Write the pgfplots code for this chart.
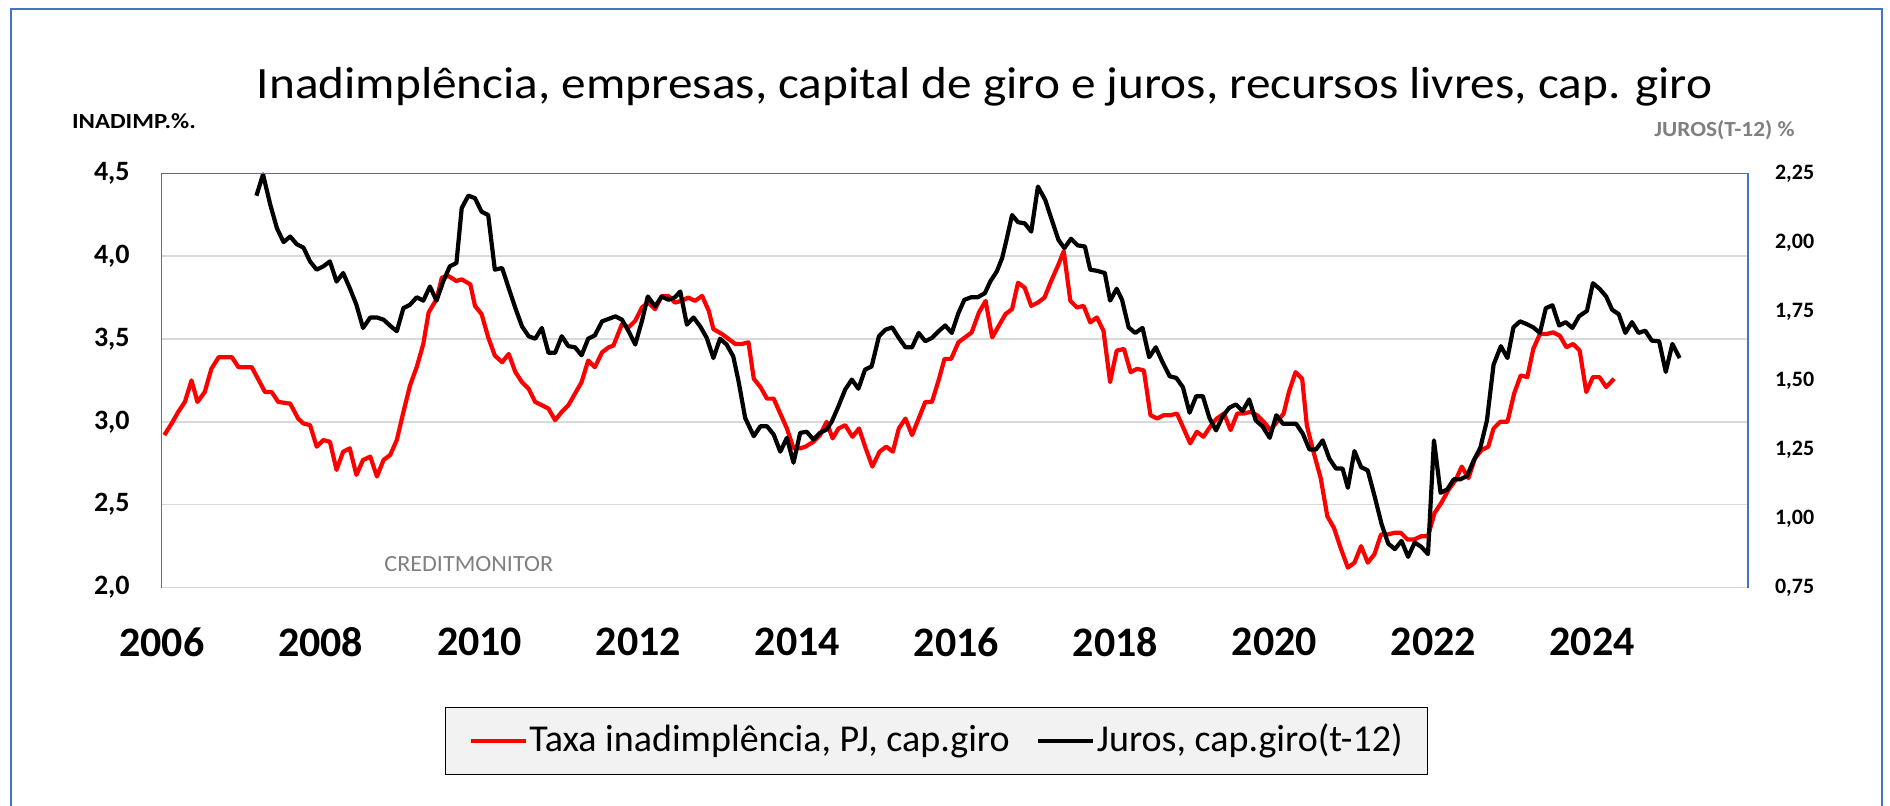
\documentclass[border=0pt]{standalone}
\usepackage{fontspec}
\setmainfont{Carlito}
\usepackage{graphicx}
\usepackage{pgfplots}
\usepackage{pgfplotstable}
\pgfplotsset{compat=1.18}
\definecolor{gridc}{HTML}{D9D9D9}
\definecolor{frameblue}{HTML}{4472C4}
\definecolor{lgray}{HTML}{F2F2F2}
\definecolor{txtgray}{HTML}{808080}

\pgfplotstableread{
m v
0.4 2.92
1.5 2.99
2.5 3.06
3.5 3.12
4.5 3.25
5.4 3.12
6.5 3.18
7.5 3.32
8.6 3.39
10.6 3.39
11.6 3.33
13.6 3.33
15.6 3.18
16.6 3.18
17.6 3.12
19.4 3.11
20.6 3.02
21.4 2.99
22.4 2.98
23.4 2.85
24.4 2.89
25.4 2.88
26.4 2.71
27.4 2.82
28.4 2.84
29.4 2.68
30.4 2.77
31.5 2.79
32.5 2.67
33.5 2.77
34.5 2.80
35.5 2.89
36.5 3.06
37.5 3.22
38.5 3.33
39.5 3.47
40.3 3.66
41.5 3.74
42.3 3.87
43.3 3.88
44.5 3.85
45.3 3.86
46.6 3.83
47.3 3.70
48.3 3.65
49.3 3.51
50.3 3.40
51.4 3.36
52.4 3.41
53.4 3.30
54.4 3.24
55.4 3.20
56.4 3.12
57.4 3.10
58.4 3.08
59.4 3.01
60.4 3.06
61.4 3.10
62.4 3.17
63.4 3.24
64.4 3.37
65.4 3.33
66.5 3.42
67.5 3.45
68.2 3.46
69.5 3.59
70.5 3.57
71.5 3.61
72.5 3.69
73.5 3.72
74.5 3.68
75.5 3.76
76.5 3.76
77.5 3.72
78.5 3.73
79.5 3.75
80.5 3.73
81.6 3.76
82.6 3.67
83.3 3.56
84.6 3.53
85.6 3.50
86.6 3.47
87.6 3.47
88.6 3.48
89.4 3.26
90.4 3.21
91.4 3.14
92.4 3.14
93.4 3.05
94.4 2.96
95.4 2.84
96.4 2.84
97.2 2.85
98.4 2.88
99.4 2.92
100.4 3.00
101.3 2.90
102.2 2.96
103.2 2.98
104.3 2.91
105.3 2.96
106.3 2.84
107.3 2.73
108.4 2.82
109.4 2.85
110.4 2.82
111.3 2.96
112.3 3.02
113.3 2.92
114.3 3.02
115.3 3.12
116.3 3.12
117.3 3.25
118.2 3.38
119.2 3.38
120.3 3.48
121.3 3.51
122.3 3.54
123.4 3.66
124.4 3.73
125.4 3.51
126.4 3.58
127.4 3.65
128.4 3.68
129.3 3.84
130.3 3.81
131.3 3.70
132.3 3.72
133.3 3.75
134.3 3.85
135.3 3.94
136.2 4.03
137.2 3.73
138.2 3.69
139.2 3.70
140.2 3.60
141.2 3.63
142.2 3.55
143.2 3.24
144.2 3.43
145.3 3.44
146.3 3.30
147.3 3.32
148.3 3.31
149.3 3.04
150.3 3.02
151.3 3.04
152.3 3.04
153.3 3.05
154.3 2.96
155.3 2.87
156.3 2.94
157.3 2.91
158.3 2.97
159.3 3.02
160.4 3.05
161.4 2.95
162.4 3.05
163.4 3.05
164.4 3.06
165.4 3.04
166.4 3.00
167.4 2.95
168.4 3.00
169.4 3.05
170.2 3.18
171.2 3.30
172.2 3.26
172.9 2.98
173.9 2.82
175.0 2.66
176.0 2.43
177.0 2.36
178.0 2.24
179.1 2.12
180.1 2.15
181.1 2.25
182.1 2.15
183.1 2.20
184.1 2.32
185.1 2.32
186.1 2.33
187.1 2.33
188.1 2.29
189.1 2.29
190.2 2.31
191.2 2.31
192.2 2.45
193.2 2.51
194.3 2.59
195.4 2.65
196.3 2.73
197.3 2.66
198.3 2.78
199.3 2.83
200.3 2.85
201.1 2.96
202.1 3.00
203.2 3.00
204.2 3.17
205.2 3.28
206.2 3.27
207.1 3.44
208.1 3.53
209.1 3.53
210.1 3.54
211.1 3.52
212.1 3.45
213.1 3.47
214.1 3.43
215.1 3.18
216.1 3.27
217.1 3.27
218.1 3.21
219.3 3.26
}\inadimp

\pgfplotstableread{
m r
14.3 2.169
15.3 2.246
16.4 2.136
17.4 2.051
18.4 2.001
19.4 2.021
20.4 1.993
21.4 1.981
22.4 1.931
23.4 1.901
24.4 1.913
25.4 1.931
26.4 1.858
27.4 1.889
28.4 1.834
29.4 1.774
30.4 1.690
31.5 1.728
32.5 1.728
33.5 1.720
34.5 1.698
35.5 1.678
36.5 1.762
37.5 1.774
38.5 1.801
39.5 1.789
40.5 1.840
41.5 1.789
42.5 1.858
43.5 1.913
44.5 1.925
45.3 2.124
46.3 2.169
47.3 2.160
48.3 2.111
49.3 2.099
50.3 1.901
51.4 1.907
52.4 1.834
53.4 1.762
54.4 1.696
55.4 1.660
56.4 1.651
57.4 1.690
58.4 1.600
59.4 1.600
60.4 1.660
61.4 1.624
62.4 1.620
63.4 1.591
64.4 1.651
65.4 1.663
66.5 1.714
67.5 1.723
68.5 1.732
69.5 1.720
70.5 1.678
71.5 1.630
72.5 1.714
73.4 1.804
74.5 1.768
75.5 1.804
76.5 1.792
77.5 1.801
78.3 1.822
79.3 1.702
80.3 1.728
81.3 1.696
82.3 1.654
83.3 1.581
84.3 1.651
85.3 1.630
86.3 1.587
87.1 1.497
88.1 1.364
89.4 1.298
90.4 1.334
91.4 1.334
92.4 1.304
93.4 1.242
94.4 1.292
95.4 1.202
96.4 1.310
97.4 1.314
98.4 1.286
99.4 1.310
100.4 1.322
101.2 1.352
102.2 1.407
103.2 1.467
104.2 1.503
105.2 1.470
106.2 1.539
107.2 1.551
108.3 1.660
109.3 1.684
110.3 1.692
111.3 1.654
112.3 1.620
113.3 1.620
114.3 1.672
115.3 1.642
116.3 1.654
117.3 1.678
118.3 1.699
119.3 1.672
120.3 1.744
121.2 1.792
122.2 1.801
123.2 1.801
124.3 1.816
125.1 1.858
126.1 1.895
126.9 1.943
127.5 2.003
128.4 2.099
129.3 2.073
130.3 2.069
131.3 2.039
132.3 2.202
133.4 2.154
134.4 2.081
135.4 2.009
136.3 1.979
137.3 2.013
138.3 1.989
139.4 1.985
140.2 1.901
141.2 1.897
142.4 1.889
143.2 1.789
144.2 1.832
145.0 1.792
146.0 1.692
147.0 1.672
148.1 1.690
149.1 1.584
150.1 1.620
151.1 1.567
152.2 1.515
153.2 1.509
154.2 1.475
155.2 1.383
156.2 1.443
157.2 1.443
158.2 1.364
159.2 1.319
160.2 1.370
161.2 1.401
162.2 1.413
163.2 1.389
164.2 1.431
165.2 1.355
166.2 1.334
167.3 1.292
168.3 1.374
169.3 1.343
170.3 1.343
171.3 1.343
172.3 1.307
173.3 1.250
174.3 1.250
175.3 1.283
176.3 1.217
177.3 1.181
178.3 1.181
179.1 1.111
180.1 1.244
181.1 1.186
182.1 1.174
183.2 1.075
184.2 0.979
185.2 0.909
186.2 0.889
187.2 0.919
188.2 0.861
189.2 0.913
190.2 0.897
191.2 0.871
192.1 1.283
193.1 1.093
194.1 1.105
195.1 1.142
196.1 1.142
197.1 1.154
198.1 1.210
199.1 1.256
200.1 1.355
201.1 1.557
202.2 1.624
203.2 1.581
204.1 1.692
205.1 1.714
206.1 1.704
207.1 1.692
208.1 1.672
209.0 1.762
210.0 1.772
211.0 1.699
212.0 1.711
213.0 1.690
214.0 1.732
215.2 1.752
216.1 1.852
217.1 1.832
218.1 1.804
219.0 1.756
220.0 1.740
221.0 1.672
222.0 1.711
223.0 1.672
224.0 1.680
225.0 1.644
226.1 1.642
227.1 1.531
228.1 1.632
229.2 1.581
}\juros

\begin{document}
\begin{tikzpicture}
\useasboundingbox (0pt,0pt) rectangle (945pt,-402.5pt);
\fill[white] (0pt,0pt) rectangle (945pt,-402.5pt);
\draw[frameblue, line width=0.8pt] (5.4pt,-4.5pt) rectangle (941pt,-420pt);

\begin{axis}[
  at={(80.85pt,-293.75pt)}, anchor=south west,
  scale only axis, width=793.15pt, height=207.1pt,
  xmin=2006, xmax=2025.96, ymin=2, ymax=4.5,
  xtick={2006,2008,...,2024},
  ytick={2,2.5,...,4.5},
  ytick pos=left, xtick pos=bottom,
  major tick length=0pt,
  axis line style={draw=none},
  ymajorgrids, grid style={gridc, line width=0.7pt},
  clip=false,
  /pgf/number format/assume math mode=true,
  xticklabel style={font=\fontsize{21}{24}\selectfont\bfseries, /pgf/number format/1000 sep={}, yshift=-16.5pt},
  yticklabel style={font=\fontsize{14}{16}\selectfont\bfseries, /pgf/number format/.cd, fixed, fixed zerofill, precision=1, use comma},
  yticklabel shift=12.5pt,
]
\addplot[red, line width=2.1pt, line join=round] table[x expr=2006+\thisrow{m}/12, y=v] {\inadimp};
\end{axis}

\begin{axis}[
  at={(80.85pt,-293.75pt)}, anchor=south west,
  scale only axis, width=793.15pt, height=207.1pt,
  xmin=2006, xmax=2025.96, ymin=0.75, ymax=2.25,
  ytick={0.75,1,...,2.25},
  hide x axis,
  ytick pos=right, yticklabel pos=right,
  major tick length=0pt,
  axis line style={draw=none},
  clip=false,
  /pgf/number format/assume math mode=true,
  yticklabel style={font=\fontsize{11}{13}\selectfont\bfseries, /pgf/number format/.cd, fixed, fixed zerofill, precision=2, use comma},
  yticklabel shift=10pt,
  legend columns=2,
  legend cell align=left,
  legend image code/.code={\draw[#1, line width=2pt] (0pt,0pt) -- (27.5pt,0pt);},
  legend style={at={(0.4884,-0.3706)}, anchor=center, draw=black, line width=0.7pt, fill=lgray,
    font=\fontsize{19}{22}\selectfont, inner xsep=11.5pt, inner ysep=7.5pt,
    nodes={inner xsep=0.8pt, inner ysep=0pt, text height=14.5pt, text depth=4pt},
    /tikz/every even column/.append style={column sep=12.5pt}},
]
\addlegendimage{red, line width=2.1pt}
\addlegendentry{Taxa inadimplência, PJ, cap.giro}
\addplot[black, line width=2.1pt, line join=round] table[x expr=2006+\thisrow{m}/12, y=r] {\juros};
\addlegendentry{Juros, cap.giro(t-12)}
\end{axis}

\draw[frameblue, line width=0.6pt] (80.85pt,-293.75pt) -- (80.85pt,-86.65pt) -- (874pt,-86.65pt) -- (874pt,-293.75pt);

\node[anchor=base, inner sep=0pt, font=\fontsize{22.4}{27}\selectfont] at (492.25pt,-49pt) {\scalebox{1.10}[1]{Inadimplência, empresas, capital de giro e juros, recursos livres, cap. giro}};
\node[anchor=base west, inner sep=0pt, font=\fontsize{10.8}{13}\selectfont\bfseries] at (35.8pt,-64.2pt) {\scalebox{1.15}[1]{INADIMP.\%.}};
\node[anchor=base west, inner sep=0pt, text=txtgray, font=\fontsize{10.8}{13}\selectfont\bfseries] at (827pt,-68.3pt) {\scalebox{1.08}[1]{JUROS(T-12) \%}};
\node[anchor=base west, inner sep=0pt, text=txtgray, font=\fontsize{11.6}{14}\selectfont] at (192pt,-285.9pt) {\scalebox{1.04}[1]{CREDITMONITOR}};
\end{tikzpicture}
\end{document}
